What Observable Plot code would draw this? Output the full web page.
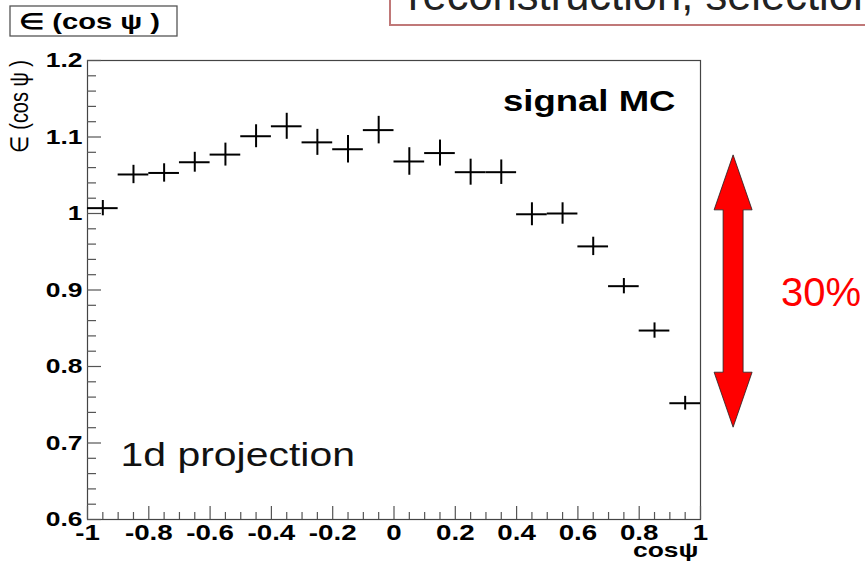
<!DOCTYPE html>
<html><head><meta charset="utf-8">
<script src="https://cdn.jsdelivr.net/npm/d3@7"></script>
<script src="https://cdn.jsdelivr.net/npm/@observablehq/plot@0.6"></script>
<style>
body{margin:0;background:#fff;}
svg{display:block}
</style>
</head><body><div id="chart"></div>
<script>
// ---- data ----
const binCenters = [-0.95,-0.85,-0.75,-0.65,-0.55,-0.45,-0.35,-0.25,-0.15,-0.05,0.05,0.15,0.25,0.35,0.45,0.55,0.65,0.75,0.85,0.95];
const efficiency = [1.007,1.051,1.053,1.067,1.077,1.101,1.114,1.093,1.084,1.109,1.068,1.079,1.054,1.054,0.999,1.000,0.957,0.905,0.847,0.752];
const errors     = [0.010,0.012,0.012,0.013,0.015,0.015,0.017,0.017,0.018,0.018,0.018,0.017,0.017,0.016,0.015,0.014,0.012,0.010,0.010,0.009];
const binWidth = 0.1;
const xMajorTicks = [-1,-0.8,-0.6,-0.4,-0.2,0,0.2,0.4,0.6,0.8,1];
const yMajorTicks = [0.6,0.7,0.8,0.9,1,1.1,1.2];
const xMinorTicks = d3.range(-1, 1.0001, 0.05).map(v => +v.toFixed(2)).filter(v => !xMajorTicks.includes(v));
const yMinorTicks = d3.range(0.6, 1.2001, 0.02).map(v => +v.toFixed(2)).filter(v => !yMajorTicks.includes(v));
const titleText = "\u2208 (cos \u03C8 )";
const yLabel = "\u2208 (cos \u03C8 )";
const xLabel = "cos\u03C8";
const annotations = ["signal MC", "1d projection"];
const slideText = "reconstruction, selection";
const rangeText = "30%";
const arrowRange = [0.72, 1.076]; // efficiency range spanned by the red arrow
const arrowX = 1.108;

const FONT = "'Liberation Sans', Arial, Helvetica, sans-serif";
const STRETCH = 1.26;
const data = binCenters.map((x, i) => ({x, v: efficiency[i], e: errors[i]}));

const plot = Plot.plot({
  width: 865, height: 565,
  marginLeft: 87, marginRight: 165, marginTop: 60, marginBottom: 46,
  style: {fontFamily: FONT, background: "white", overflow: "visible", color: "black"},
  x: {domain: [-1, 1]},
  y: {domain: [0.6, 1.2]},
  marks: [
    Plot.frame({stroke: "#444", strokeWidth: 1.2}),
    Plot.axisX(xMinorTicks, {tickSize: -7, text: null, stroke: "#555", strokeWidth: 1.2, label: null}),
    Plot.axisX(xMajorTicks, {tickSize: -13, text: null, stroke: "#555", strokeWidth: 1.2, label: null}),
    Plot.axisX(xMajorTicks, {tickSize: 0, tickPadding: 5, tickFormat: d => String(d), fontSize: 22, fontWeight: "bold", fill: "black", label: null}),
    Plot.axisY(yMinorTicks, {tickSize: -9, text: null, stroke: "#555", strokeWidth: 1.2, label: null}),
    Plot.axisY(yMajorTicks, {tickSize: -14, text: null, stroke: "#555", strokeWidth: 1.2, label: null}),
    Plot.axisY(yMajorTicks, {tickSize: 0, tickPadding: 5, tickFormat: d => String(d), fontSize: 21, fontWeight: "bold", fill: "black", label: null}),
    Plot.ruleY(data, {y: "v", x1: d => d.x - binWidth / 2, x2: d => d.x + binWidth / 2, stroke: "black", strokeWidth: 2}),
    Plot.ruleX(data, {x: "x", y1: d => d.v - d.e, y2: d => d.v + d.e, stroke: "black", strokeWidth: 2}),
    Plot.text([annotations[0]], {text: d => d, frameAnchor: "top-right", dx: -25, dy: 50, textAnchor: "end", lineAnchor: "bottom", fontSize: 29, fontWeight: "bold", fill: "black"}),
    Plot.text([annotations[1]], {text: d => d, frameAnchor: "bottom-left", dx: 33, dy: -54, textAnchor: "start", lineAnchor: "bottom", fontSize: 32.5, fill: "#111"}),
    Plot.text([xLabel], {text: d => d, frameAnchor: "bottom-right", dx: -2, dy: 37, textAnchor: "end", lineAnchor: "bottom", fontSize: 21, fontWeight: "bold", fill: "black"})
  ]
});

document.getElementById("chart").appendChild(plot);

// horizontal stretch of the plot's text (the ROOT image was stretched in the slide)
d3.select(plot).selectAll("text").each(function() {
  const len = this.getComputedTextLength();
  if (len > 0) {
    this.setAttribute("textLength", (len * STRETCH).toFixed(1));
    this.setAttribute("lengthAdjust", "spacingAndGlyphs");
  }
});

const svg = d3.select(plot);
const xs = plot.scale("x"), ys = plot.scale("y");

// title box
svg.append("rect").attr("x", 10).attr("y", 6).attr("width", 167).attr("height", 30)
  .attr("fill", "white").attr("stroke", "#555").attr("stroke-width", 1.3);
svg.append("text").attr("x", 19).attr("y", 29).attr("text-anchor", "start").attr("font-family", FONT).attr("font-size", 22)
  .attr("font-weight", "bold").attr("fill", "black")
  .attr("textLength", 141).attr("lengthAdjust", "spacingAndGlyphs").text(titleText);

// y axis label (rotated)
svg.append("g").attr("transform", "translate(28,60) scale(1.26,1) rotate(-90)")
  .append("text").attr("text-anchor", "end").attr("font-family", FONT).attr("font-size", 20)
  .attr("fill", "black").text(yLabel);

// slide text box at the top
svg.append("rect").attr("x", 390).attr("y", -20).attr("width", 520).attr("height", 45)
  .attr("fill", "none").attr("stroke", "#c07878").attr("stroke-width", 2);
svg.append("text").attr("x", 408).attr("y", 10).attr("text-anchor", "start").attr("font-family", FONT).attr("font-size", 43.5)
  .attr("fill", "#222").text(slideText);

// red double arrow
const ax = xs.apply(arrowX), yT = ys.apply(arrowRange[1]), yB = ys.apply(arrowRange[0]);
const hw = 19, sw = 10, hl = 55;
const pts = [[ax, yT], [ax + hw, yT + hl], [ax + sw, yT + hl], [ax + sw, yB - hl], [ax + hw, yB - hl], [ax, yB],
             [ax - hw, yB - hl], [ax - sw, yB - hl], [ax - sw, yT + hl], [ax - hw, yT + hl]];
svg.append("path").attr("d", "M" + pts.map(p => p.join(",")).join("L") + "Z")
  .attr("fill", "#ff0000").attr("stroke", "#222").attr("stroke-width", 0.8);
svg.append("text").attr("x", 781).attr("y", 306).attr("text-anchor", "start").attr("font-family", FONT).attr("font-size", 40)
  .attr("fill", "#ff0000").text(rangeText);
</script>
</body></html>
